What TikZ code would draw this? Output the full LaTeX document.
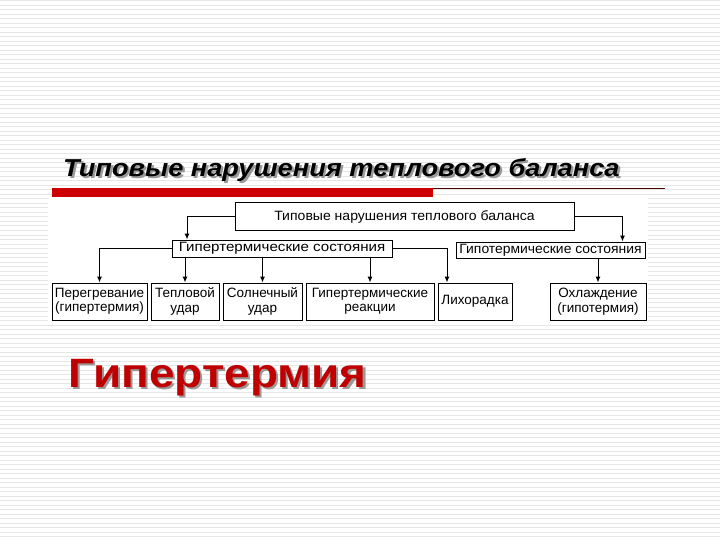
\documentclass[tikz,border=0pt]{standalone}
\usepackage{fontspec}
\setmainfont{Liberation Sans}
\usetikzlibrary{arrows.meta}
\definecolor{barred}{HTML}{CC0000}
\definecolor{titlered}{HTML}{C00000}
\definecolor{stripe}{HTML}{E6E6E6}
\newcommand{\shadowtext}[2]{\makebox[0pt][l]{\hspace{2pt}\raisebox{-2pt}{\color{black!40}#2}}{\color{#1}#2}}
\tikzset{
  box/.style={draw=black, line width=1pt, inner sep=0pt, align=center,
    font=\fontsize{13.5}{14.5}\selectfont, text=black},
  arr/.style={draw=black, line width=1pt, -{Latex[length=6pt,width=5pt]}},
}
\begin{document}
\begin{tikzpicture}[x=1pt,y=-1pt]
\useasboundingbox (0,0) rectangle (720,540);
\fill[white] (0,0) rectangle (720,540);
\foreach \yy in {1,5.5,...,540} \draw[stripe, line width=1pt] (0,\yy) -- (720,\yy);
% diagram white area
\fill[white] (48,198) rectangle (648,322);
% title
\node[anchor=base west, inner sep=0pt, font=\fontsize{24.5}{26}\selectfont\bfseries\itshape] (title) at (63,177) {\scalebox{1.11}[1]{\shadowtext{black}{Типовые нарушения теплового баланса}}};
% rule
\fill[barred] (52,188) rectangle (433,197);
\draw[black!70!red, line width=0.8pt] (433,188.5) -- (665,188.5);
% boxes
\node[box, minimum width=339pt, minimum height=28pt] (top) at (404.5,217) {\scalebox{1.04}[1]{Типовые нарушения теплового баланса}};
\node[box, minimum width=220pt, minimum height=17pt] (hyper) at (282,248.5) {\raisebox{-1pt}{\scalebox{1.12}[1]{Гипертермические состояния}}};
\node[box, minimum width=189pt, minimum height=16pt] (hypo) at (550.5,250) {\raisebox{-0.5pt}{\scalebox{1.03}[1]{Гипотермические состояния}}};
\node[box, minimum width=95pt, minimum height=37pt] (b1) at (99.5,301.5) {Перегревание\\(гипертермия)};
\node[box, minimum width=68pt, minimum height=37pt] (b2) at (185,301.5) {Тепловой\\удар};
\node[box, minimum width=79pt, minimum height=37pt] (b3) at (262.5,301.5) {Солнечный\\удар};
\node[box, minimum width=128pt, minimum height=37pt] (b4) at (370,301.5) {Гипертермические\\реакции};
\node[box, minimum width=74pt, minimum height=37pt] (b5) at (475,301.5) {Лихорадка};
\node[box, minimum width=96pt, minimum height=37pt] (b6) at (598,301.5) {Охлаждение\\(гипотермия)};
% connectors
\draw[arr] (top.west) -| ([xshift=2pt]b2.north |- hyper.north);
\draw[arr] (top.east) -| ([xshift=72pt]hypo.north);
\draw[arr] (hyper.west) -| (b1.north);
\draw[arr] (b2.north |- hyper.south) -- (b2.north);
\draw[arr] (b3.north |- hyper.south) -- (b3.north);
\draw[arr] (b4.north |- hyper.south) -- (b4.north);
\draw[arr] (hyper.east) -| ([xshift=-28pt]b5.north);
\draw[arr] (b6.north |- hypo.south) -- (b6.north);
% red heading
\node[anchor=base west, inner sep=0pt, font=\fontsize{41}{44}\selectfont\bfseries] (heading) at (68,387) {\scalebox{1.12}[1]{\shadowtext{titlered}{Гипертермия}}};
\end{tikzpicture}
\end{document}
